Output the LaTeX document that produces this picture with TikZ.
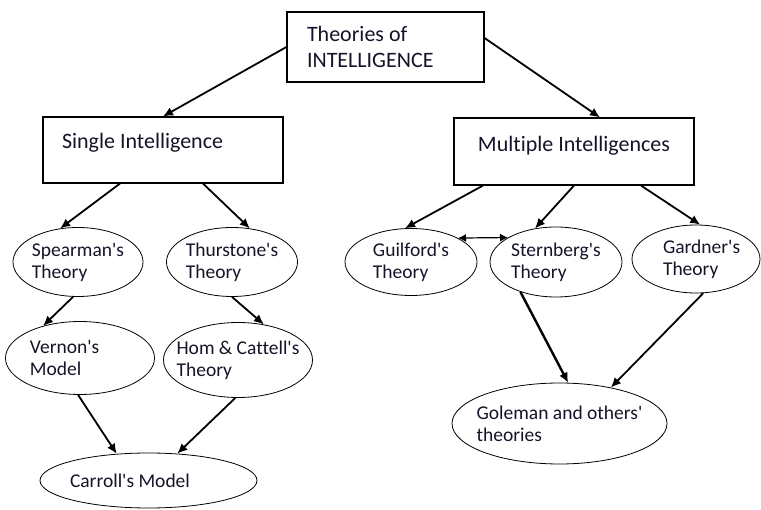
\documentclass[tikz,border=0pt]{standalone}
\usepackage{fontspec}
\setmainfont{Carlito}[Ligatures={TeXOff,CommonOff}]
\usepackage{tikz}
\usetikzlibrary{arrows.meta}
\usetikzlibrary{shapes.geometric}
\definecolor{inktext}{RGB}{20,20,40}

\begin{document}
\begin{tikzpicture}[x=1pt, y=-1pt,
    headbox/.style={draw, line width=1.1pt, inner ysep=0pt, font=\fontsize{22}{26.5}\selectfont, text=inktext},
    theory/.style={draw, ellipse, line width=0.8pt, inner sep=-12pt, align=left, font=\fontsize{19.5}{22}\selectfont, text=inktext},
    link/.style={line width=1.8pt, -{Latex[length=10pt,width=9pt]}}]
  \useasboundingbox (0,0) rectangle (761,510);

  \node[headbox, text width=157pt, inner xsep=20pt, minimum height=70pt, align=flush left] (theories) at (385.5,47) {Theories of\\INTELLIGENCE};
  \node[headbox, text width=202pt, inner xsep=19pt, text height=32pt, text depth=34pt, align=flush left] (single) at (163,150) {Single Intelligence};
  \node[headbox, minimum width=240pt, text height=34pt, text depth=33pt] (multiple) at (574,151.5) {Multiple Intelligences};

  \node[theory, minimum width=130pt, minimum height=69pt] (spearman) at (78,262) {Spearman's\\Theory};
  \node[theory, minimum width=131pt, minimum height=69pt] (thurstone) at (232,262) {Thurstone's\\Theory};
  \node[theory, minimum width=149pt, minimum height=73pt, text width=100pt, align=flush left] (vernon) at (80,358) {Vernon's\\Model};
  \node[theory, minimum width=149pt, minimum height=75pt] (hom) at (238,360) {Hom \& Cattell's\\Theory};
  \node[theory, minimum width=217pt, minimum height=55pt, text width=157pt, align=flush left] (carroll) at (148.5,480.5) {Carroll's Model};
  \node[theory, minimum width=132pt, minimum height=67pt] (guilford) at (411,262) {Guilford's\\Theory};
  \node[theory, minimum width=132pt, minimum height=70pt] (sternberg) at (556,262) {Sternberg's\\Theory};
  \node[theory, minimum width=128pt, minimum height=68pt, text width=66pt, align=flush left] (gardner) at (696,259) {Gardner's\\Theory};
  \node[theory, minimum width=215pt, minimum height=81pt] (goleman) at (559.5,423.5) {Goleman and others'\\theories};

  \draw[link] (theories.west) -- (single.north);
  \draw[link] ([yshift=9pt]theories.east) -- ([xshift=26pt]multiple.north);
  \draw[link] ([xshift=-43pt]single.south) -- (spearman.118);
  \draw[link] ([xshift=40pt]single.south) -- (thurstone.62);
  \draw[link] (spearman.262) -- (vernon.139);
  \draw[link] (thurstone.270) -- (hom.54);
  \draw[link] (vernon.267) -- (carroll.140);
  \draw[link] (hom.266) -- (carroll.43);
  \draw[link] ([xshift=-91pt]multiple.south) -- (guilford.100);
  \draw[link] (multiple.south) -- (sternberg.122);
  \draw[link] ([xshift=67pt]multiple.south) -- (gardner.83);
  \draw[link, line width=1.2pt, {Latex[length=8pt,width=8pt]}-{Latex[length=8pt,width=8pt]}] (guilford.27) -- (sternberg.153);
  \draw[link, line width=2.4pt] (sternberg.220) -- (goleman.78);
  \draw[link] (gardner.282) -- (goleman.35);
\end{tikzpicture}
\end{document}
